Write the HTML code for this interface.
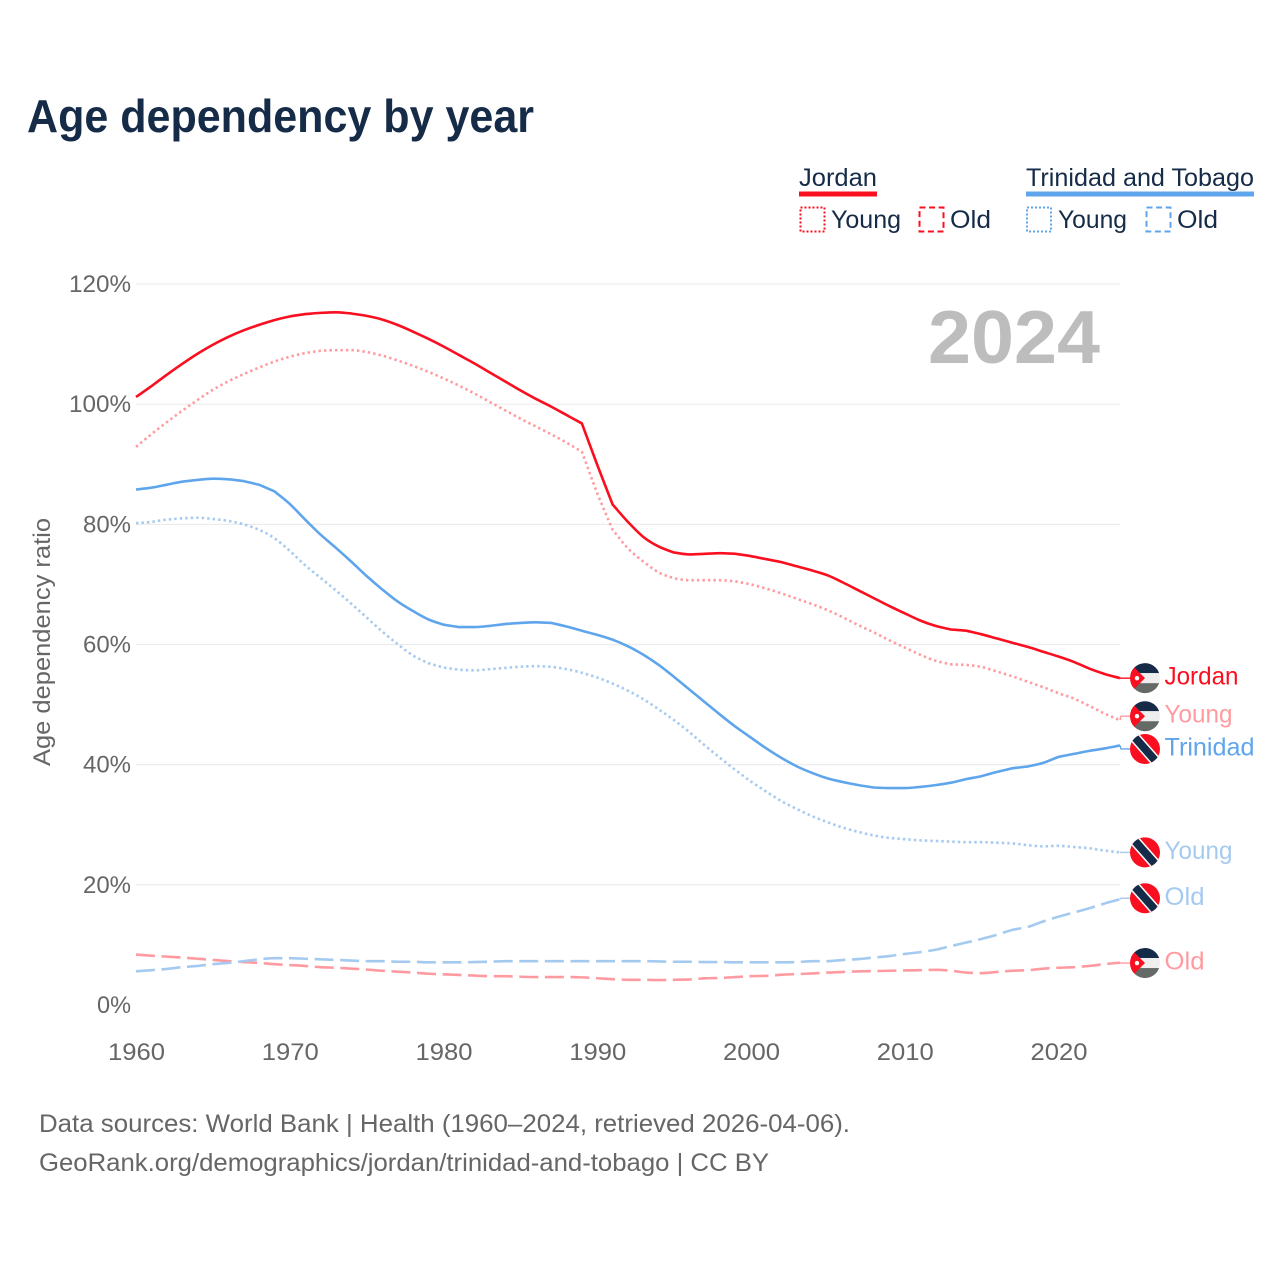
<!DOCTYPE html>
<html lang="en">
<head>
<meta charset="utf-8">
<title>Age dependency by year</title>
<style>
html,body{margin:0;padding:0;background:#fff;}
svg{display:block;}
text{font-family:"Liberation Sans",sans-serif;}
</style>
</head>
<body>
<svg id="chart" xmlns="http://www.w3.org/2000/svg" width="1280" height="1280" viewBox="0 0 1280 1280">
  <defs>
    <clipPath id="flag-clip"><circle cx="0" cy="0" r="15"></circle></clipPath>
  </defs>
  <rect x="0" y="0" width="1280" height="1280" fill="#ffffff"></rect>
  <text x="27" y="132" font-size="46" font-weight="700" fill="#152b47" textLength="507" lengthAdjust="spacingAndGlyphs">Age dependency by year</text>

  <g>
    <text x="799" y="186" font-size="25" fill="#152b47" textLength="78" lengthAdjust="spacingAndGlyphs">Jordan</text>
    <rect x="799" y="191.5" width="78" height="5" fill="#f90f1f"></rect>
    <rect x="800.5" y="207.5" width="24" height="24" fill="none" stroke="#f90f1f" stroke-width="2" stroke-dasharray="2 2"></rect>
    <text x="831" y="228" font-size="25" fill="#152b47" textLength="70" lengthAdjust="spacingAndGlyphs">Young</text>
    <rect x="919.5" y="207.5" width="24" height="24" fill="none" stroke="#f90f1f" stroke-width="2" stroke-dasharray="6 3.6"></rect>
    <text x="950" y="228" font-size="25" fill="#152b47" textLength="41" lengthAdjust="spacingAndGlyphs">Old</text>

    <text x="1026" y="186" font-size="25" fill="#152b47" textLength="228" lengthAdjust="spacingAndGlyphs">Trinidad and Tobago</text>
    <rect x="1026" y="191.5" width="228" height="5" fill="#5fa5ec"></rect>
    <rect x="1027" y="207.5" width="24" height="24" fill="none" stroke="#5fa5ec" stroke-width="2" stroke-dasharray="2 2"></rect>
    <text x="1058" y="228" font-size="25" fill="#152b47" textLength="69" lengthAdjust="spacingAndGlyphs">Young</text>
    <rect x="1146.5" y="207.5" width="24" height="24" fill="none" stroke="#5fa5ec" stroke-width="2" stroke-dasharray="6 3.6"></rect>
    <text x="1177" y="228" font-size="25" fill="#152b47" textLength="41" lengthAdjust="spacingAndGlyphs">Old</text>
  </g>

  <g id="grid"></g>
  <g id="y-ticks"></g>
  <g id="x-ticks"></g>
  <text transform="translate(50,642) rotate(-90)" text-anchor="middle" font-size="24" fill="#666666" textLength="248" lengthAdjust="spacingAndGlyphs">Age dependency ratio</text>
  <text x="928" y="363" font-size="75" font-weight="700" fill="#bdbdbd" textLength="172" lengthAdjust="spacingAndGlyphs">2024</text>
  <g id="series"></g>
  <g id="end-labels"></g>

  <text x="39" y="1132" font-size="25" fill="#666666" textLength="811" lengthAdjust="spacingAndGlyphs">Data sources: World Bank | Health (1960–2024, retrieved 2026-04-06).</text>
  <text x="39" y="1171" font-size="25" fill="#666666" textLength="730" lengthAdjust="spacingAndGlyphs">GeoRank.org/demographics/jordan/trinidad-and-tobago | CC BY</text>
</svg>
<script>
const years = [1960,1961,1962,1963,1964,1965,1966,1967,1968,1969,
  1970,1971,1972,1973,1974,1975,1976,1977,1978,1979,
  1980,1981,1982,1983,1984,1985,1986,1987,1988,1989,
  1990,1991,1992,1993,1994,1995,1996,1997,1998,1999,
  2000,2001,2002,2003,2004,2005,2006,2007,2008,2009,
  2010,2011,2012,2013,2014,2015,2016,2017,2018,2019,
  2020,2021,2022,2023,2024];
const yTickValues = [0,20,40,60,80,100,120];
const xTickValues = [1960,1970,1980,1990,2000,2010,2020];

const jordanTotal = [101.2,103.0,104.9,106.7,108.4,109.9,111.2,112.3,113.2,114.0,
  114.6,115.0,115.2,115.3,115.1,114.7,114.1,113.2,112.1,110.9,
  109.6,108.2,106.8,105.3,103.8,102.3,100.9,99.6,98.2,96.8,
  89.9,83.3,80.4,77.9,76.3,75.3,75.0,75.1,75.2,75.1,
  74.7,74.2,73.7,73.0,72.3,71.5,70.3,69.0,67.7,66.4,
  65.2,64.0,63.1,62.5,62.3,61.7,61.0,60.3,59.6,58.8,
  58.0,57.1,56.0,55.1,54.4];
const jordanYoung = [92.9,95.0,97.0,98.9,100.7,102.4,103.8,105.0,106.1,107.1,
  107.9,108.5,108.9,109.0,109.0,108.7,108.1,107.3,106.4,105.4,
  104.3,103.1,101.8,100.4,99.0,97.6,96.3,95.0,93.6,92.1,
  85.2,79.1,76.0,73.8,72.0,71.0,70.7,70.7,70.7,70.5,
  70.0,69.3,68.5,67.6,66.7,65.7,64.5,63.2,62.0,60.7,
  59.5,58.3,57.3,56.7,56.6,56.3,55.5,54.7,53.8,52.9,
  51.9,51.0,49.8,48.5,47.4];
const jordanOld = [8.4,8.2,8.05,7.9,7.7,7.5,7.3,7.15,7.0,6.8,
  6.65,6.5,6.3,6.2,6.05,5.9,5.7,5.55,5.4,5.2,
  5.1,5.0,4.9,4.8,4.8,4.7,4.65,4.65,4.65,4.6,
  4.45,4.3,4.2,4.2,4.15,4.2,4.25,4.45,4.5,4.65,
  4.8,4.85,5.05,5.15,5.25,5.4,5.5,5.6,5.65,5.7,
  5.75,5.8,5.85,5.7,5.4,5.3,5.5,5.7,5.8,6.05,
  6.2,6.3,6.5,6.8,7.05];
const trinidadTotal = [85.8,86.1,86.6,87.1,87.4,87.6,87.5,87.2,86.6,85.5,
  83.4,80.8,78.3,76.1,73.8,71.4,69.2,67.2,65.6,64.2,
  63.3,62.9,62.9,63.1,63.4,63.6,63.7,63.6,63.0,62.3,
  61.6,60.8,59.7,58.3,56.6,54.6,52.5,50.4,48.3,46.3,
  44.5,42.7,41.1,39.7,38.6,37.7,37.1,36.6,36.2,36.1,
  36.1,36.3,36.6,37.0,37.6,38.1,38.8,39.4,39.7,40.3,
  41.3,41.8,42.3,42.7,43.2];
const trinidadYoung = [80.2,80.4,80.8,81.0,81.1,80.9,80.6,80.0,79.1,77.7,
  75.6,73.2,71.1,69.0,66.8,64.5,62.2,60.1,58.2,56.9,
  56.2,55.8,55.7,55.9,56.1,56.3,56.4,56.3,55.9,55.3,
  54.5,53.5,52.3,50.9,49.2,47.4,45.4,43.2,41.1,39.1,
  37.2,35.5,33.9,32.6,31.4,30.4,29.5,28.8,28.2,27.8,
  27.6,27.4,27.3,27.2,27.1,27.1,27.0,26.9,26.6,26.4,
  26.5,26.3,26.1,25.7,25.4];
const trinidadOld = [5.6,5.8,6.0,6.3,6.5,6.8,7.0,7.3,7.6,7.8,
  7.8,7.7,7.6,7.5,7.4,7.3,7.3,7.2,7.2,7.1,
  7.1,7.1,7.15,7.2,7.3,7.3,7.3,7.3,7.3,7.3,
  7.3,7.3,7.3,7.3,7.25,7.2,7.2,7.15,7.15,7.1,
  7.1,7.1,7.1,7.15,7.3,7.3,7.5,7.65,7.9,8.15,
  8.5,8.8,9.2,9.8,10.4,11.0,11.7,12.5,13.0,13.9,
  14.7,15.4,16.1,16.9,17.6];

const SVGNS = 'http://www.w3.org/2000/svg';
const xScale = function (year) { return 136 + (year - 1960) * 15.375; };
const yScale = function (value) { return 1005 - value * 6.008; };

function make(tag, attrs, parent) {
  const el = document.createElementNS(SVGNS, tag);
  Object.keys(attrs).forEach(function (k) { el.setAttribute(k, attrs[k]); });
  parent.appendChild(el);
  return el;
}

/* smooth path through the scaled points; abrupt slope changes stay as corners */
function smoothPath(xs, ys) {
  const n = xs.length;
  const s = [];
  for (let i = 0; i < n - 1; i++) { s.push((ys[i + 1] - ys[i]) / (xs[i + 1] - xs[i])); }
  const tIn = [];
  const tOut = [];
  for (let i = 1; i < n - 1; i++) {
    const a = s[i - 1], b = s[i];
    const big = Math.max(Math.abs(a), Math.abs(b));
    const small = Math.min(Math.abs(a), Math.abs(b));
    if (big > 0.15 && big / Math.max(small, 0.001) > 1.8) {
      tIn[i] = a;
      tOut[i] = b;
    } else {
      const m = (Math.sign(a) + Math.sign(b)) * Math.min(Math.abs(a), Math.abs(b), 0.5 * Math.abs((a + b) / 2)) || 0;
      tIn[i] = m;
      tOut[i] = m;
    }
  }
  tOut[0] = s[0];
  tIn[n - 1] = s[n - 2];
  let d = 'M' + xs[0] + ',' + ys[0];
  for (let i = 0; i < n - 1; i++) {
    const h = (xs[i + 1] - xs[i]) / 3;
    d += 'C' + (xs[i] + h) + ',' + (ys[i] + h * tOut[i]) + ' ' + (xs[i + 1] - h) + ',' + (ys[i + 1] - h * tIn[i + 1]) + ' ' + xs[i + 1] + ',' + ys[i + 1];
  }
  return d;
}

const gridLayer = document.getElementById('grid');
const yTickLayer = document.getElementById('y-ticks');
const xTickLayer = document.getElementById('x-ticks');
const seriesLayer = document.getElementById('series');
const labelLayer = document.getElementById('end-labels');

yTickValues.forEach(function (v) {
  if (v > 0) {
    const line = make('line', {x1: 136, x2: 1120, y1: yScale(v), y2: yScale(v), stroke: '#ececec', 'stroke-width': 1.2}, gridLayer);
    
    
  }
  const label = make('text', {x: 131, y: yScale(v) + 8, 'text-anchor': 'end', 'font-size': 24, fill: '#666666'}, yTickLayer);
  
  
  label.setAttribute('textLength', String(v).length === 3 ? 62 : String(v).length === 2 ? 48 : 34);
  label.setAttribute('lengthAdjust', 'spacingAndGlyphs');
  label.textContent = v + '%';
});

xTickValues.forEach(function (yr) {
  const label = make('text', {x: xScale(yr) + 0.5, y: 1060, 'text-anchor': 'middle', 'font-size': 24, fill: '#666666'}, xTickLayer);
  
  
  label.setAttribute('textLength', 57);
  label.setAttribute('lengthAdjust', 'spacingAndGlyphs');
  label.textContent = yr;
});

function drawFlag(country, y) {
  const outer = make('g', {transform: 'translate(1145,' + y + ')'}, labelLayer);
  
  
  const inner = make('g', {'clip-path': 'url(#flag-clip)'}, outer);
  if (country === 'jordan') {
    make('rect', {x: -16, y: -16, width: 32, height: 11, fill: '#152b47'}, inner);
    make('rect', {x: -16, y: -5, width: 32, height: 10, fill: '#eeeeee'}, inner);
    make('rect', {x: -16, y: 5, width: 32, height: 11, fill: '#666a66'}, inner);
    make('polygon', {points: '-16,-16 0,0 -16,16', fill: '#f90f1f'}, inner);
    make('circle', {cx: -8, cy: 0, r: 2.2, fill: '#ffffff'}, inner);
  } else {
    make('rect', {x: -16, y: -16, width: 32, height: 32, fill: '#f90f1f'}, inner);
    make('line', {x1: -15, y1: -17, x2: 15, y2: 17, stroke: '#ffffff', 'stroke-width': 11}, inner);
    make('line', {x1: -15, y1: -17, x2: 15, y2: 17, stroke: '#152b47', 'stroke-width': 8}, inner);
  }
}

function drawSeries(key, country, values, color, dash, labelText, labelColor, labelWidth, labelShift) {
  const xs = values.map(function (v, i) { return xScale(years[i]); });
  const ys = values.map(function (v) { return yScale(v); });
  const line = make('path', {d: smoothPath(xs, ys), fill: 'none', stroke: color, 'stroke-width': 2.6, 'stroke-linejoin': 'round'}, seriesLayer);
  
  
  if (dash) { line.setAttribute('stroke-dasharray', dash); }

  const lastY = yScale(values[values.length - 1]);
  const flagY = lastY + labelShift;
  const tail = make('polyline', {points: '1120,' + lastY + ' 1121,' + flagY + ' 1132,' + flagY, fill: 'none', stroke: color, 'stroke-width': 1.4}, seriesLayer);
  
  

  drawFlag(country, flagY);

  const label = make('text', {x: 1164.5, y: flagY + 6.5, 'font-size': 25, fill: labelColor, textLength: labelWidth, lengthAdjust: 'spacingAndGlyphs'}, labelLayer);
  
  
  label.textContent = labelText;
}

drawSeries('jordan-old', 'jordan', jordanOld, '#ff9ba0', '19 6.6', 'Old', '#ff9ba0', 40, 0.4);
drawSeries('trinidad-old', 'trinidad', trinidadOld, '#a5caf0', '19 6.6', 'Old', '#a5caf0', 40, -1);
drawSeries('jordan-young', 'jordan', jordanYoung, '#ff9ba0', '2.4 3.1', 'Young', '#ff9ba0', 68, -4);
drawSeries('trinidad-young', 'trinidad', trinidadYoung, '#a5caf0', '2.4 3.1', 'Young', '#a5caf0', 68, 0);
drawSeries('trinidad-total', 'trinidad', trinidadTotal, '#5fa5ec', null, 'Trinidad', '#5fa5ec', 90, 3.5);
drawSeries('jordan-total', 'jordan', jordanTotal, '#f90f1f', null, 'Jordan', '#f90f1f', 74, 0);
</script>
</body>
</html>
